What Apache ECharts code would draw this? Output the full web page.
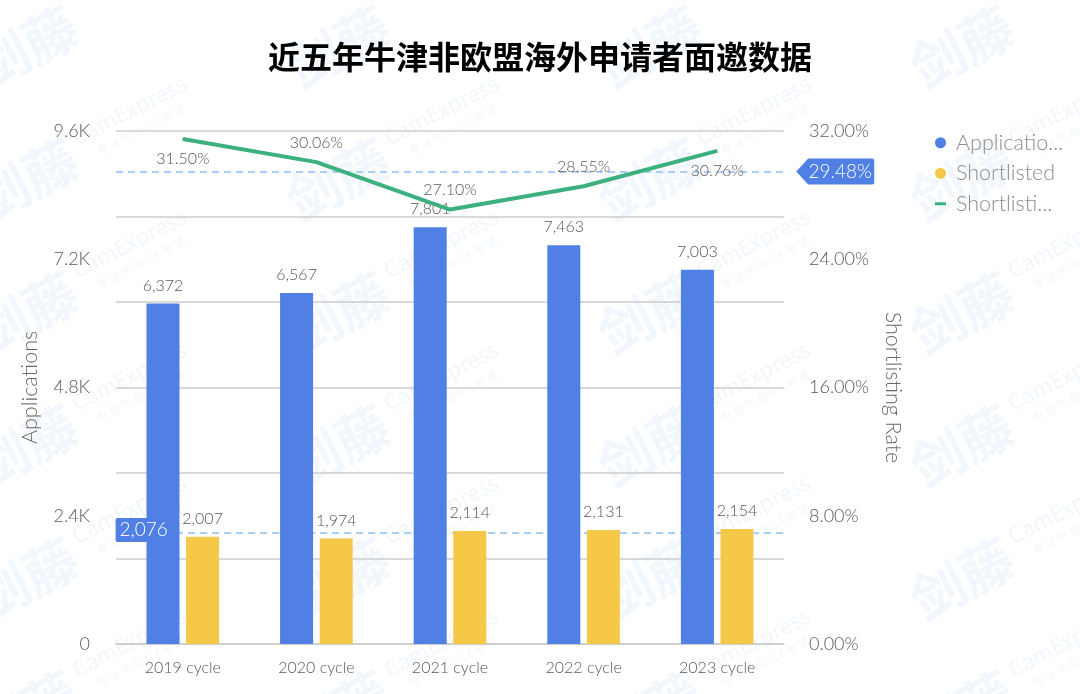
<!DOCTYPE html>
<html>
<head>
<meta charset="utf-8">
<title>近五年牛津非欧盟海外申请者面邀数据</title>
<script src="https://cdn.jsdelivr.net/npm/echarts@6/dist/echarts.min.js"></script>
<style>
html, body { margin: 0; padding: 0; background: #fff; }
#main { width: 1080px; height: 694px; }
</style>
</head>
<body>
<div id="main"></div>
<script>
var categories = ['2019 cycle', '2020 cycle', '2021 cycle', '2022 cycle', '2023 cycle'];
var applications = [6372, 6567, 7801, 7463, 7003];
var shortlisted = [2007, 1974, 2114, 2131, 2154];
var shortlistingRate = [31.50, 30.06, 27.10, 28.55, 30.76];
var rateLabelSides = ['bottom', 'top', 'top', 'top', 'bottom'];
var shortlistedAverage = 2076;
var rateAverage = 29.48;
var legendShort = { 'Applications': 'Applicatio...', 'Shortlisted': 'Shortlisted', 'Shortlisting Rate': 'Shortlisti...' };

var font = 'Lato, "Noto Sans CJK SC", sans-serif';
var blue = '#5080E4';
var yellow = '#F5C947';
var green = '#3DB07F';
var gridGray = '#CCCCCC';
var textGray = '#585858';
var avgLine = { color: '#8FC1F5', type: [7, 5], width: 1.5 };

// faint repeating watermark behind the chart
function watermark() {
	var els = [];
	var angle = 27 * Math.PI / 180;
	var tint = '#F1F7FC';
	function put(x, y, text, size, weight) {
		els.push({
			type: 'text', x: x, y: y, rotation: angle, z: -10, silent: true,
			style: { text: text, fill: tint, font: weight + ' ' + size + 'px "Noto Sans CJK SC", sans-serif', align: 'center', verticalAlign: 'middle' }
		});
	}
	for (var col = 0; col < 4; col++) {
		for (var row = 0; row < 6; row++) {
			var x = 26 + col * 312;
			var y = 47 + row * 133;
			put(x, y, '剑藤', 54, 'bold');
			put(x + 103, y - 70 + 133, 'CamExpress', 22, 'normal');
			put(x + 115, y - 50 + 133, '专 注 牛 剑 G S 申 请', 11, 'normal');
		}
	}
	return els;
}

var myChart = echarts.init(document.getElementById('main'));

var option = {
	backgroundColor: '#fff',
	animation: false,
	textStyle: { fontFamily: font, fontWeight: 300 },
	graphic: { elements: watermark() },
	title: {
		text: '近五年牛津非欧盟海外申请者面邀数据',
		left: 'center',
		top: 36,
		textStyle: { fontFamily: '"Noto Sans CJK SC"', fontSize: 32, fontWeight: 'bold', color: '#000' }
	},
	legend: {
		orient: 'vertical',
		left: 930,
		top: 127,
		itemWidth: 11,
		itemHeight: 11,
		itemGap: 9,
		formatter: function (name) { return legendShort[name]; },
		textStyle: {
			fontFamily: font, fontWeight: 300, fontSize: 21.5, color: '#8c8c8c',
			padding: [0, 0, 0, 5]
		},
		data: [
			{ name: 'Applications', icon: 'circle' },
			{ name: 'Shortlisted', icon: 'circle' },
			{ name: 'Shortlisting Rate', icon: 'path://M0 4H11V7H0Z' }
		]
	},
	grid: { left: 116, right: 296, top: 131, bottom: 50 },
	xAxis: {
		type: 'category',
		data: categories,
		axisTick: { show: false },
		axisLine: { lineStyle: { color: gridGray, width: 1.5 } },
		axisLabel: { fontSize: 16, color: textGray, margin: 16, fontFamily: font, fontWeight: 300 }
	},
	yAxis: [
		{
			type: 'value', min: 0, max: 9600, interval: 2400,
			name: 'Applications', nameLocation: 'middle', nameGap: 75, nameRotate: 90,
			nameTextStyle: { fontSize: 21.5, color: '#666', fontWeight: 300 },
			axisLine: { show: false }, axisTick: { show: false }, splitLine: { show: false },
			axisLabel: {
				fontSize: 18, color: textGray, margin: 26, fontWeight: 300,
				formatter: function (v) { return v === 0 ? '0' : (v / 1000).toFixed(1) + 'K'; }
			}
		},
		{
			type: 'value', min: 0, max: 32, interval: 8,
			name: 'Shortlisting Rate', nameLocation: 'middle', nameGap: 98, nameRotate: -90,
			nameTextStyle: { fontSize: 21.5, color: '#666', fontWeight: 300 },
			axisLine: { show: false }, axisTick: { show: false }, splitLine: { show: false },
			axisLabel: {
				fontSize: 18, color: textGray, margin: 25, fontWeight: 300,
				formatter: function (v) { return v.toFixed(2) + '%'; }
			}
		},
		// gridlines fall on sixths, not on the label ticks
		{
			type: 'value', min: 0, max: 6, interval: 1, position: 'left',
			axisLine: { show: false }, axisTick: { show: false }, axisLabel: { show: false },
			splitLine: { lineStyle: { color: gridGray, width: 1.5 } }
		}
	],
	series: [
		{
			name: 'Applications',
			type: 'bar',
			data: applications,
			barWidth: 33,
			barGap: '20%',
			itemStyle: { color: blue },
			label: { show: true, position: 'top', distance: 10, fontSize: 16, color: textGray, fontWeight: 300,
				formatter: function (p) { return p.value.toLocaleString('en-US'); } }
		},
		{
			name: 'Shortlisted',
			type: 'bar',
			data: shortlisted,
			barWidth: 33,
			itemStyle: { color: yellow },
			label: { show: true, position: 'top', distance: 10, fontSize: 16, color: textGray, fontWeight: 300,
				formatter: function (p) { return p.value.toLocaleString('en-US'); } },
			markLine: {
				silent: true, symbol: 'none', z: 1,
				lineStyle: avgLine,
				label: { show: false },
				data: [{ yAxis: shortlistedAverage }]
			},
			markPoint: {
				silent: true,
				symbol: 'path://M2 0H50Q52 0 52 2V22Q52 24 50 24H2Q0 24 0 22V2Q0 0 2 0Z',
				symbolSize: [52, 24],
				symbolOffset: [-61, -3],
				itemStyle: { color: blue },
				label: { color: '#fff', fontSize: 19, fontWeight: 300, offset: [2, 0],
					formatter: function (p) { return p.value.toLocaleString('en-US'); } },
				data: [{ coord: [categories[0], shortlistedAverage], value: shortlistedAverage }]
			}
		},
		{
			name: 'Shortlisting Rate',
			type: 'line',
			yAxisIndex: 1,
			data: shortlistingRate.map(function (v, i) {
				return { value: v, label: { position: rateLabelSides[i] } };
			}),
			symbol: 'circle',
			symbolSize: 1,
			showSymbol: true,
			lineStyle: { color: green, width: 4 },
			itemStyle: { color: green },
			label: { show: true, fontSize: 16, color: textGray, fontWeight: 300, distance: 11,
				formatter: function (p) { return p.value.toFixed(2) + '%'; } },
			markLine: {
				silent: true, symbol: 'none', z: 1,
				lineStyle: avgLine,
				label: { show: false },
				data: [{ yAxis: rateAverage }]
			},
			markPoint: {
				silent: true,
				symbol: 'path://M0 12L12 0H76Q78 0 78 2V22Q78 24 76 24H12Z',
				symbolSize: [78, 26],
				symbolOffset: [118, 0],
				itemStyle: { color: blue },
				label: { color: '#fff', fontSize: 19, fontWeight: 300, offset: [5, 0],
					formatter: function (p) { return p.value.toFixed(2) + '%'; } },
				data: [{ coord: [categories[4], rateAverage], value: rateAverage }]
			}
		}
	]
};

myChart.setOption(option);
</script>
</body>
</html>
